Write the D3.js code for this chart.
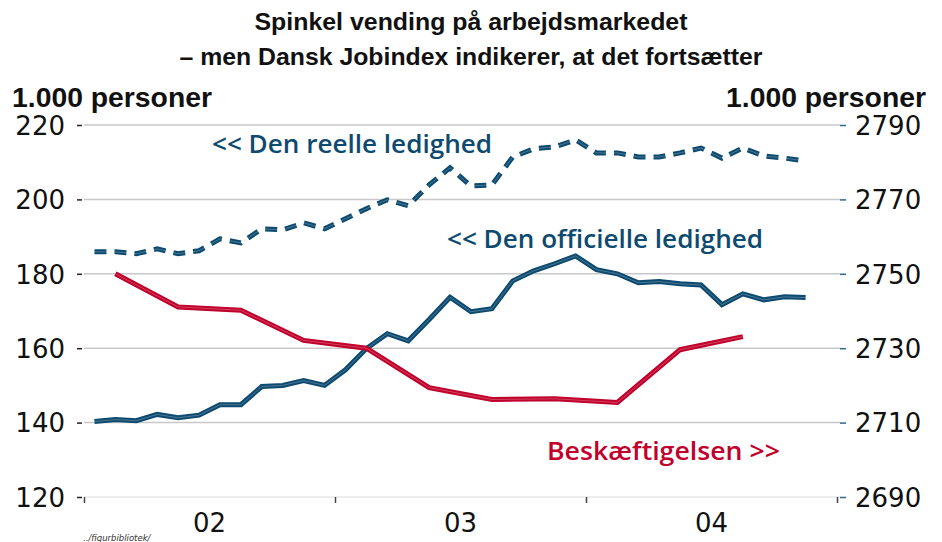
<!DOCTYPE html>
<html>
<head>
<meta charset="utf-8">
<script src="https://cdn.jsdelivr.net/npm/d3@7"></script>
<style>
  html, body { margin: 0; padding: 0; background: #fff; }
  svg { display: block; }
</style>
</head>
<body>
<div id="chart"></div>
<script>
// ---- DATA ----
const titleLines = ["Spinkel vending på arbejdsmarkedet", "– men Dansk Jobindex indikerer, at det fortsætter"];
const yearLabels = ["02", "03", "04"];
const leftTicks = [120, 140, 160, 180, 200, 220];
const rightTicks = [2690, 2710, 2730, 2750, 2770, 2790];
// monthly, Jan 2002 – Nov 2004 (1.000 personer, left axis)
const officielLedighed = [140.3, 140.8, 140.5, 142.2, 141.3, 142.0, 144.8, 144.8, 149.7, 150.0, 151.3, 150.0,
  154.2, 159.9, 163.9, 162.0, 167.7, 173.7, 169.8, 170.6, 178.1, 180.8, 182.7, 184.8,
  181.1, 180.0, 177.6, 177.9, 177.3, 177.0, 171.7, 174.6, 173.0, 173.8, 173.6];
const reelLedighed = [185.9, 185.9, 185.4, 186.7, 185.4, 186.2, 189.4, 188.3, 192.1, 191.8, 193.7, 192.1,
  194.8, 197.5, 199.9, 198.3, 203.9, 208.5, 203.6, 203.9, 211.4, 213.6, 214.1, 216.0,
  212.5, 212.5, 211.4, 211.4, 212.5, 213.8, 211.1, 213.8, 211.7, 211.1, 210.3];
// quarterly, Q1 2002 – Q3 2004 (1.000 personer, right axis)
const beskaeftigelse = [2750.0, 2741.1, 2740.2, 2732.1, 2730.0, 2719.4, 2716.2, 2716.4, 2715.4, 2729.6, 2733.1];

const startYear = 2002, endYear = 2005;
const blue = "#0d4a70", red = "#c1002b";

// ---- LAYOUT ----
const W = 942, H = 542;
const svg = d3.select("#chart").append("svg").attr("width", W).attr("height", H);

const x = d3.scaleLinear().domain([startYear, endYear]).range([84, 837]);
const yL = d3.scaleLinear().domain([120, 220]).range([497, 125]);
const yR = d3.scaleLinear().domain([2690, 2790]).range([497, 125]);

// Titles
const titleFont = "'Liberation Sans', Arial, sans-serif";
svg.append("text").attr("x", 471).attr("y", 30).attr("text-anchor", "middle")
  .attr("font-family", titleFont).attr("font-weight", "bold").attr("font-size", 24)
  .attr("fill", "#111").attr("textLength", 433).attr("lengthAdjust", "spacingAndGlyphs")
  .text(titleLines[0]);
svg.append("text").attr("x", 471).attr("y", 65).attr("text-anchor", "middle")
  .attr("font-family", titleFont).attr("font-weight", "bold").attr("font-size", 24)
  .attr("fill", "#111").attr("textLength", 583).attr("lengthAdjust", "spacingAndGlyphs")
  .text(titleLines[1]);

svg.append("text").attr("x", 12).attr("y", 107)
  .attr("font-family", titleFont).attr("font-weight", "bold").attr("font-size", 27)
  .attr("fill", "#111").attr("textLength", 200).attr("lengthAdjust", "spacingAndGlyphs")
  .text("1.000 personer");
svg.append("text").attr("x", 726).attr("y", 107)
  .attr("font-family", titleFont).attr("font-weight", "bold").attr("font-size", 27)
  .attr("fill", "#111").attr("textLength", 200).attr("lengthAdjust", "spacingAndGlyphs")
  .text("1.000 personer");

const tickFont = "'DejaVu Sans', sans-serif";

// Gridlines
svg.append("g").selectAll("line").data(leftTicks).join("line")
  .attr("x1", 84).attr("x2", 840)
  .attr("y1", d => yL(d)).attr("y2", d => yL(d))
  .attr("stroke", d => d === 120 ? "#e8e8e8" : "#c8c8c8").attr("stroke-width", 1.5);

// Left axis
const leftAxis = d3.axisLeft(yL).tickValues(leftTicks).tickSize(5).tickPadding(12).tickFormat(d3.format("d"));
const gl = svg.append("g").attr("transform", "translate(82,0)").call(leftAxis);
gl.select(".domain").remove();
gl.selectAll(".tick line").attr("stroke", "#222").attr("stroke-width", 1.5);
gl.selectAll(".tick text").attr("font-family", tickFont).attr("font-size", 26).attr("fill", "#111")
  .attr("dy", "0.36em");

// Right axis
const rightAxis = d3.axisRight(yR).tickValues(rightTicks).tickSize(6).tickPadding(9).tickFormat(d3.format("d"));
const gr = svg.append("g").attr("transform", "translate(840,0)").call(rightAxis);
gr.select(".domain").remove();
gr.selectAll(".tick line").attr("stroke", "#2a6a94").attr("stroke-width", 1.5);
gr.selectAll(".tick text").attr("font-family", tickFont).attr("font-size", 26).attr("fill", "#111")
  .attr("dy", "0.36em");

// Bottom axis: ticks at year boundaries, labels at mid-year
const yearBounds = d3.range(startYear, endYear + 1);
const gb = svg.append("g").attr("transform", "translate(0,497)")
  .call(d3.axisBottom(x).tickValues(yearBounds).tickSize(6).tickFormat(""));
gb.select(".domain").remove();
gb.selectAll(".tick line").attr("stroke", "#444").attr("stroke-width", 1.5);
svg.append("g").selectAll("text").data(yearLabels).join("text")
  .attr("x", (d, i) => x(startYear + i + 0.5)).attr("y", 532)
  .attr("text-anchor", "middle").attr("font-family", tickFont).attr("font-size", 26)
  .attr("fill", "#111").text(d => d);

// Lines
const monthX = i => x(startYear + (i + 0.5) / 12);
const quarterX = i => x(startYear + (i + 0.5) / 4);

const lineOff = d3.line().x((d, i) => monthX(i)).y(d => yL(d));
const lineBes = d3.line().x((d, i) => quarterX(i)).y(d => yR(d));

function drawLine(path, data, color, dash) {
  const g = svg.append("g");
  g.append("path").attr("d", path(data)).attr("fill", "none").attr("stroke", color)
    .attr("stroke-width", 5).attr("stroke-linejoin", "miter")
    .attr("stroke-dasharray", dash || null);
  g.append("path").attr("d", path(data)).attr("fill", "none").attr("stroke", "#fff")
    .attr("stroke-opacity", 0.25).attr("stroke-width", 1)
    .attr("stroke-dasharray", dash || null);
}
drawLine(lineOff, reelLedighed, blue, "12,8");
drawLine(lineOff, officielLedighed, blue);
drawLine(lineBes, beskaeftigelse, red);

// Annotations
const annFont = "'Open Sans', 'DejaVu Sans', sans-serif";
svg.append("text").attr("x", 212).attr("y", 153).attr("font-family", annFont)
  .attr("font-size", 25).attr("font-weight", 600).attr("fill", blue)
  .attr("textLength", 280).attr("lengthAdjust", "spacingAndGlyphs")
  .text("<< Den reelle ledighed");
svg.append("text").attr("x", 447).attr("y", 248).attr("font-family", annFont)
  .attr("font-size", 25).attr("font-weight", 600).attr("fill", blue)
  .attr("textLength", 316).attr("lengthAdjust", "spacingAndGlyphs")
  .text("<< Den officielle ledighed");
svg.append("text").attr("x", 547).attr("y", 460).attr("font-family", annFont)
  .attr("font-size", 25).attr("font-weight", 600).attr("fill", red)
  .attr("textLength", 233).attr("lengthAdjust", "spacingAndGlyphs")
  .text("Beskæftigelsen >>");

// Source
svg.append("text").attr("x", 83).attr("y", 541).attr("font-family", "'DejaVu Sans', sans-serif")
  .attr("font-size", 8.5).attr("font-style", "italic").attr("fill", "#333").text("../figurbibliotek/");
</script>
</body>
</html>
